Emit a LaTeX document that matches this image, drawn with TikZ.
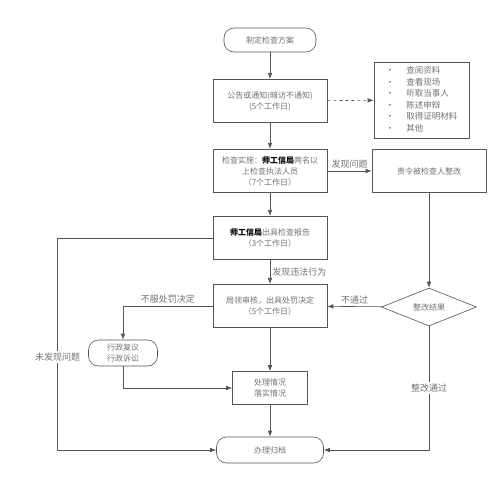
\documentclass[tikz,border=0pt]{standalone}
\usepackage{fontspec}
\newfontfamily\cjk{Noto Sans CJK SC}
\usetikzlibrary{arrows.meta,shapes.geometric}
\definecolor{linegray}{gray}{0.33}
\definecolor{textgray}{gray}{0.45}
\newcommand\agency{{\bfseries\color{black}师工信局}}
\tikzset{every path/.style={semithick}}
\tikzset{
  flow/.style={-{Latex[length=6pt,width=4.5pt]},draw=linegray},
  box/.style={draw=linegray,fill=white,minimum width=114pt,minimum height=43.5pt,align=center,text=textgray,
    font=\cjk\fontsize{8}{11}\selectfont},
  term/.style={box,rounded corners=10pt},
  check/.style={diamond,draw=linegray,fill=white,aspect=2.47,minimum width=95pt,minimum height=38pt,inner sep=0pt,text=textgray,
    font=\cjk\fontsize{8}{11}\selectfont},
  listbox/.style={draw=linegray,fill=white,minimum width=95pt,minimum height=70pt,text=textgray,
    font=\cjk\fontsize{8.5}{11.5}\selectfont},
  tag/.style={text=textgray,font=\cjk\fontsize{9}{11}\selectfont,inner sep=2pt}
}
\begin{document}
\begin{tikzpicture}[x=1pt,y=-1pt]
  \useasboundingbox (0,0) rectangle (500,480);

  \node[term,minimum width=92pt,minimum height=24pt] (plan) at (270,40) {制定检查方案};
  \node[box] (notice) at (270,101) {公告或通知(暗访不通知)\\(5个工作日)};
  \node[listbox] (methods) at (421.5,100) {\begin{tabular}{@{}c@{\hspace{12pt}}l@{}}
    • & 查阅资料\\ • & 查看现场\\ • & 听取当事人\\ • & 陈述申辩\\ • & 取得证明材料\\ • & 其他
  \end{tabular}};
  \node[box] (exec) at (270,171) {检查实施：\agency 两名以\\上检查执法人员\\（7个工作日）};
  \node[box] (order) at (429,171) {责令被检查人整改};
  \node[box] (report) at (270,238) {\agency 出具检查报告\\（3个工作日）};
  \node[box] (punish) at (270,306) {局领审核，出具处罚决定\\（5个工作日）};
  \node[check] (result) at (429,307) {整改结果};
  \node[term,minimum width=69pt,minimum height=26pt] (appeal) at (123,353) {行政复议\\行政诉讼};
  \node[box,minimum width=75pt,minimum height=33pt] (status) at (270,388) {处理情况\\落实情况};
  \node[term,minimum width=107pt,minimum height=26pt] (archive) at (270,450) {办理归档};

  \draw[flow] (plan) -- (notice);
  \draw[flow,dashed] (notice) -- (methods);
  \draw[flow] (notice) -- (exec);
  \draw[flow] (exec) -- node[tag,above] {发现问题} (order);
  \draw[flow] (exec) -- (report);
  \draw[flow] (report) -- node[tag,right] {发现违法行为} (punish);
  \draw[flow] (order) -- (result);
  \draw[flow] (result) -- node[tag,above] {不通过} (punish);
  \draw[flow] (punish) -| node[tag,above,pos=0.25] {不服处罚决定} (appeal);
  \draw[flow] (punish) -- (status);
  \draw[flow] (appeal) |- (status);
  \draw[flow] (status) -- (archive);
  \draw[flow] (report.west) -- ++(-155,0) |- node[tag,fill=white,pos=0.28] {未发现问题} (archive.west);
  \draw[flow] (result.south) |- node[tag,fill=white,pos=0.25] {整改通过} (archive.east);
\end{tikzpicture}
\end{document}
